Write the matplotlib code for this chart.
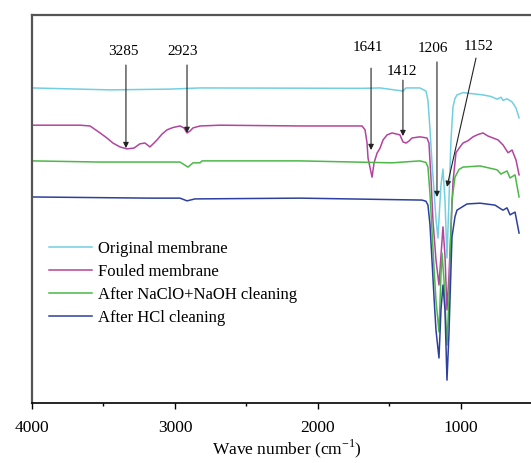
import matplotlib
matplotlib.use('Agg')
import matplotlib.pyplot as plt
from matplotlib.ticker import MultipleLocator

plt.rcParams['font.family'] = ['Liberation Serif', 'DejaVu Serif']

# spectra: wave number (cm-1) and transmittance (a.u.)
wn_original = [4000, 3455, 3035, 2825, 1692, 1566, 1406, 1385, 1287, 1245, 1231, 1217, 1203, 1189, 1175, 1161,
               1150, 1140, 1126, 1112, 1098, 1084, 1070, 1056, 1042, 1028, 986, 916, 846, 790, 748, 720, 706,
               678, 643, 615, 594]
t_original = [81.2, 80.7, 80.9, 81.2, 81.1, 81.2, 80.4, 81.2, 81.2, 80.4, 78.0, 70.6, 62.0, 54.9, 47.5, 42.5,
              50.0, 56.2, 60.3, 52.3, 37.4, 52.3, 67.8, 76.3, 78.5, 79.4, 80.0, 79.7, 79.4, 79.0, 78.3, 78.8, 78.0,
              78.4, 77.6, 76.0, 73.5]

wn_fouled = [4000, 3664, 3594, 3524, 3476, 3434, 3385, 3336, 3287, 3245, 3210, 3175, 3147, 3126, 3091, 3056,
             3014, 2965, 2937, 2916, 2895, 2874, 2825, 2685, 2126, 1692, 1671, 1657, 1650, 1622, 1608, 1587,
             1566, 1545, 1517, 1482, 1448, 1427, 1406, 1385, 1364, 1343, 1287, 1238, 1224, 1210, 1196, 1175,
             1154, 1140, 1126, 1112, 1098, 1084, 1070, 1056, 1035, 1007, 986, 951, 916, 881, 846, 811, 776,
             741, 706, 671, 643, 615, 594]
t_fouled = [71.6, 71.6, 71.4, 69.6, 68.3, 67.0, 66.0, 65.5, 65.7, 66.8, 67.0, 66.0, 67.0, 67.8, 69.3, 70.4,
            71.0, 71.4, 70.9, 69.6, 70.1, 70.9, 71.4, 71.6, 71.4, 71.4, 70.4, 67.0, 63.1, 58.2, 61.9, 64.4,
            65.7, 67.8, 69.1, 69.6, 69.3, 69.1, 67.3, 67.0, 67.5, 68.3, 68.6, 68.3, 67.0, 58.0, 47.0, 36.9,
            30.4, 38.0, 45.4, 38.0, 24.0, 33.0, 45.0, 57.0, 64.5, 66.0, 67.0, 67.6, 68.6, 69.2, 69.6, 68.8, 68.3,
            67.8, 66.5, 64.5, 65.2, 62.6, 58.8]

wn_naclo = [4000, 3524, 2965, 2909, 2874, 2825, 2811, 2126, 1482, 1287, 1245, 1231, 1217, 1203, 1189, 1175,
            1154, 1140, 1133, 1119, 1098, 1084, 1077, 1063, 1042, 1014, 986, 867, 748, 720, 706, 678, 657, 622,
            594]
t_naclo = [62.4, 62.1, 62.1, 60.8, 61.9, 61.9, 62.4, 62.4, 61.9, 62.4, 62.0, 60.8, 54.0, 44.6, 35.0, 26.5,
           18.3, 33.0, 38.7, 31.7, 14.9, 27.0, 36.9, 52.3, 58.2, 60.2, 60.8, 61.1, 60.1, 59.0, 59.3, 59.8, 58.0,
           58.8, 53.1]

wn_hcl = [4000, 3175, 2965, 2916, 2860, 2126, 1273, 1245, 1231, 1217, 1203, 1189, 1175, 1154, 1140, 1126, 1112,
          1098, 1084, 1077, 1063, 1042, 1028, 958, 867, 762, 720, 706, 678, 657, 622, 594]
t_hcl = [53.1, 52.8, 52.8, 52.1, 52.6, 52.8, 52.3, 52.0, 51.0, 46.0, 36.9, 27.5, 18.8, 11.6, 24.0, 30.4, 24.0,
         5.9, 18.0, 26.5, 42.8, 48.0, 49.7, 51.3, 51.5, 51.0, 50.0, 49.7, 50.3, 48.5, 49.2, 43.8]

labels = ['Original membrane', 'Fouled membrane', 'After NaClO+NaOH cleaning', 'After HCl cleaning']
colors = ['#72cfe2', '#b2449f', '#4cb848', '#2d40a0']

# peak labels: text, text position, arrow tail, arrow tip
peak_names = ['3285', '2923', '1641', '1412', '1206', '1152']
peak_text = [(3362, 90.5), (2944, 90.5), (1650, 91.5), (1413, 85.5), (1196, 91.3), (880, 91.8)]
peak_tail = [(3343, 87.1), (2916, 87.1), (1629, 86.3), (1406, 83.2), (1168, 87.9), (895, 88.9)]
peak_tip = [(3343, 65.7), (2916, 69.6), (1629, 65.2), (1406, 68.8), (1168, 53.1), (1098, 55.7)]

fig = plt.figure(figsize=(5.31, 4.63), dpi=100)
ax = fig.add_axes([32/531, 60/463, 510.5/531, 388/463])

ax.plot(wn_original, t_original, color=colors[0], lw=1.1, label=labels[0])
ax.plot(wn_fouled, t_fouled, color=colors[1], lw=1.1, label=labels[1])
ax.plot(wn_naclo, t_naclo, color=colors[2], lw=1.1, label=labels[2])
ax.plot(wn_hcl, t_hcl, color=colors[3], lw=1.1, label=labels[3])

for i in range(len(peak_names)):
    ax.text(peak_text[i][0], peak_text[i][1], peak_names[i], fontsize=11, ha='center', va='center')
    ax.annotate('', xy=peak_tip[i], xytext=peak_tail[i],
                arrowprops=dict(arrowstyle='-|>', color='#222222', lw=0.8, mutation_scale=8,
                                shrinkA=0, shrinkB=0))

ax.set_xlim(4000, 430)
ax.set_ylim(0, 100)
ax.set_yticks([])
ax.xaxis.set_major_locator(MultipleLocator(1000))
ax.xaxis.set_minor_locator(MultipleLocator(500))
ax.tick_params(axis='x', which='major', direction='out', length=4, width=1, labelsize=12.5, pad=8)
ax.tick_params(axis='x', which='minor', direction='out', length=2.5, width=1)
ax.set_xlabel('Wave number (cm$^{\\mathregular{-1}}$)', fontsize=12.5, labelpad=1)

for s in ['left', 'top']:
    ax.spines[s].set_color('#555555')
    ax.spines[s].set_linewidth(1.6)
ax.spines['bottom'].set_linewidth(1.2)
ax.spines['right'].set_visible(False)

leg = ax.legend(loc='upper left', bbox_to_anchor=(0.02, 0.435), frameon=False, fontsize=12,
                handlelength=2.6, handletextpad=0.35, labelspacing=0.42, borderaxespad=0)

fig.savefig('out.png', dpi=100)
